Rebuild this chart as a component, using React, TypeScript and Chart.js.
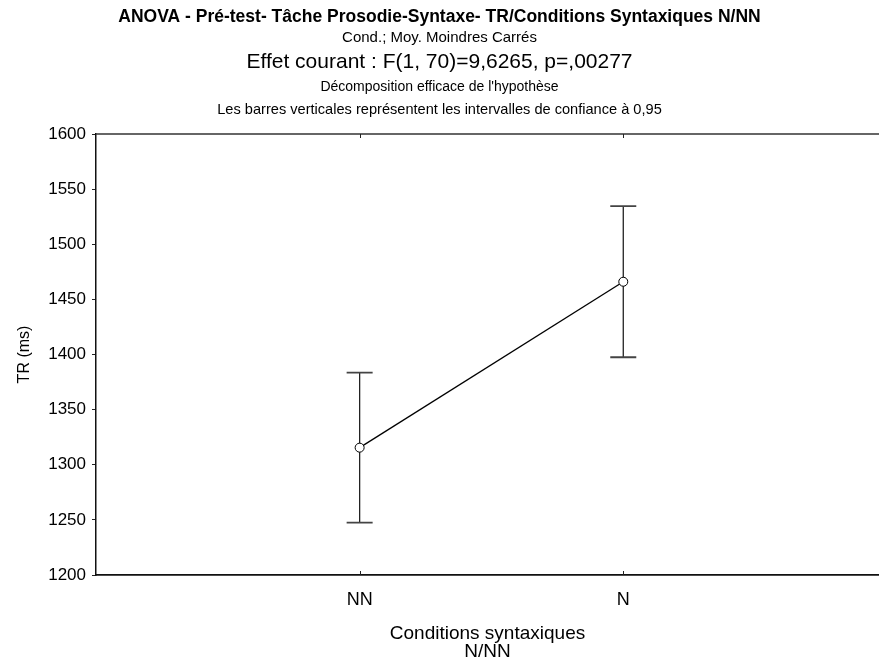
import React, { useEffect, useRef } from "react";
import { Chart, registerables } from "chart.js";

Chart.register(...registerables);

// ---- data ----
const categories = ["NN", "N"];
const categoryPositions = [1, 2];
const means = [1315.5, 1466];
const ciLower = [1247.5, 1397.5];
const ciUpper = [1383.5, 1534.5];
const yMin = 1200;
const yMax = 1600;
const yStep = 50;

const titleText = "ANOVA - Pré-test- Tâche Prosodie-Syntaxe- TR/Conditions Syntaxiques N/NN";
const subtitleLines = [
  "Cond.; Moy. Moindres Carrés",
  "Effet courant : F(1, 70)=9,6265, p=,00277",
  "Décomposition efficace de l'hypothèse",
  "Les barres verticales représentent les intervalles de confiance à 0,95",
];
const yAxisTitle = "TR (ms)";
const xAxisTitle = ["Conditions syntaxiques", "N/NN"];

const FONT = "'Liberation Sans', Arial, Helvetica, sans-serif";

const headerStyles = [
  { font: `bold 17.5px ${FONT}`, y: 17 },
  { font: `15px ${FONT}`, y: 38 },
  { font: `21px ${FONT}`, y: 62 },
  { font: `14px ${FONT}`, y: 87 },
  { font: `14.6px ${FONT}`, y: 110 },
];

const headerPlugin = {
  id: "headerText",
  afterDraw(chart: any) {
    const ctx = chart.ctx;
    const lines = [titleText, ...subtitleLines];
    ctx.save();
    ctx.fillStyle = "#000";
    ctx.textAlign = "center";
    ctx.textBaseline = "middle";
    lines.forEach((t, i) => {
      const st = headerStyles[i];
      ctx.font = st.font;
      ctx.fillText(t, chart.width / 2, st.y);
    });
    ctx.restore();
  },
};

const errorBarPlugin = {
  id: "errorBars",
  beforeDatasetsDraw(chart: any) {
    const ctx = chart.ctx;
    const xs = chart.scales.x;
    const ys = chart.scales.y;
    ctx.save();
    categoryPositions.forEach((pos, i) => {
      const x = xs.getPixelForValue(pos);
      const yl = ys.getPixelForValue(ciLower[i]);
      const yu = ys.getPixelForValue(ciUpper[i]);
      const cap = 13;
      ctx.lineWidth = 1.3;
      ctx.strokeStyle = "#222";
      ctx.beginPath();
      ctx.moveTo(x, yl);
      ctx.lineTo(x, yu);
      ctx.stroke();
      ctx.lineWidth = 1.8;
      ctx.strokeStyle = "#444";
      ctx.beginPath();
      ctx.moveTo(x - cap, yl);
      ctx.lineTo(x + cap, yl);
      ctx.moveTo(x - cap, yu);
      ctx.lineTo(x + cap, yu);
      ctx.stroke();
    });
    ctx.restore();
  },
};

const framePlugin = {
  id: "frame",
  afterDraw(chart: any) {
    const ctx = chart.ctx;
    const a = chart.chartArea;
    const xs = chart.scales.x;
    ctx.save();
    ctx.strokeStyle = "#333";
    ctx.lineWidth = 1.6;
    ctx.beginPath();
    ctx.moveTo(a.left, a.top);
    ctx.lineTo(a.right, a.top);
    ctx.stroke();
    ctx.lineWidth = 1;
    ctx.strokeStyle = "#222";
    ctx.beginPath();
    categoryPositions.forEach((pos) => {
      const x = Math.round(xs.getPixelForValue(pos)) + 0.5;
      ctx.moveTo(x, a.top);
      ctx.lineTo(x, a.top + 4);
      ctx.moveTo(x, a.bottom);
      ctx.lineTo(x, a.bottom - 4);
    });
    ctx.stroke();
    ctx.restore();
  },
};

export default function App() {
  const canvasRef = useRef<HTMLCanvasElement | null>(null);

  useEffect(() => {
    if (!canvasRef.current) return;
    Chart.defaults.font.family = FONT;
    Chart.defaults.color = "#000";
    const chart = new Chart(canvasRef.current, {
      type: "line",
      data: {
        datasets: [
          {
            data: categoryPositions.map((p, i) => ({ x: p, y: means[i] })),
            borderColor: "#000",
            borderWidth: 1.3,
            pointRadius: 4.5,
            pointBackgroundColor: "#fff",
            pointBorderColor: "#000",
            pointBorderWidth: 1,
            tension: 0,
            fill: false,
          },
        ],
      },
      options: {
        responsive: false,
        animation: false,
        layout: { autoPadding: false, padding: { top: 134, left: 0, right: 0, bottom: 0 } },
        plugins: {
          legend: { display: false },
          tooltip: { enabled: false },
        },
        scales: {
          x: {
            type: "linear",
            position: "bottom",
            min: 0,
            max: 2.97,
            afterBuildTicks: (scale: any) => {
              scale.ticks = categoryPositions.map((v) => ({ value: v }));
            },
            afterFit: (scale: any) => {
              scale.height = 86;
              scale.paddingLeft = 0;
              scale.paddingRight = 0;
            },
            ticks: {
              autoSkip: false,
              padding: 14,
              font: { size: 18 },
              color: "#000",
              callback: (v: any) => {
                const idx = categoryPositions.indexOf(Number(v));
                return idx >= 0 ? categories[idx] : "";
              },
            },
            grid: { display: true, drawOnChartArea: false, drawTicks: false },
            border: { display: true, color: "#111", width: 1.8 },
            title: {
              display: true,
              text: xAxisTitle,
              font: { size: 19, lineHeight: 0.95 },
              color: "#000",
              padding: { top: 0, bottom: 0 },
            },
          },
          y: {
            type: "linear",
            position: "left",
            min: yMin,
            max: yMax,
            afterFit: (scale: any) => {
              scale.width = 96;
            },
            ticks: {
              stepSize: yStep,
              padding: 6,
              font: { size: 17 },
              color: "#000",
              callback: (v: any) => String(v),
            },
            grid: {
              display: true,
              drawOnChartArea: false,
              drawTicks: true,
              tickLength: 4,
              color: "#222",
            },
            border: { display: true, color: "#111", width: 1.5 },
            title: {
              display: true,
              text: yAxisTitle,
              font: { size: 16 },
              color: "#000",
              padding: { top: 15, bottom: 0 },
            },
          },
        },
      },
      plugins: [errorBarPlugin, framePlugin, headerPlugin],
    } as any);
    return () => chart.destroy();
  }, []);

  return (
    <div style={{ position: "absolute", left: 0, top: 0, width: 879, height: 661, background: "#fff" }}>
      <canvas ref={canvasRef} width={879} height={661} style={{ display: "block" }} />
    </div>
  );
}
